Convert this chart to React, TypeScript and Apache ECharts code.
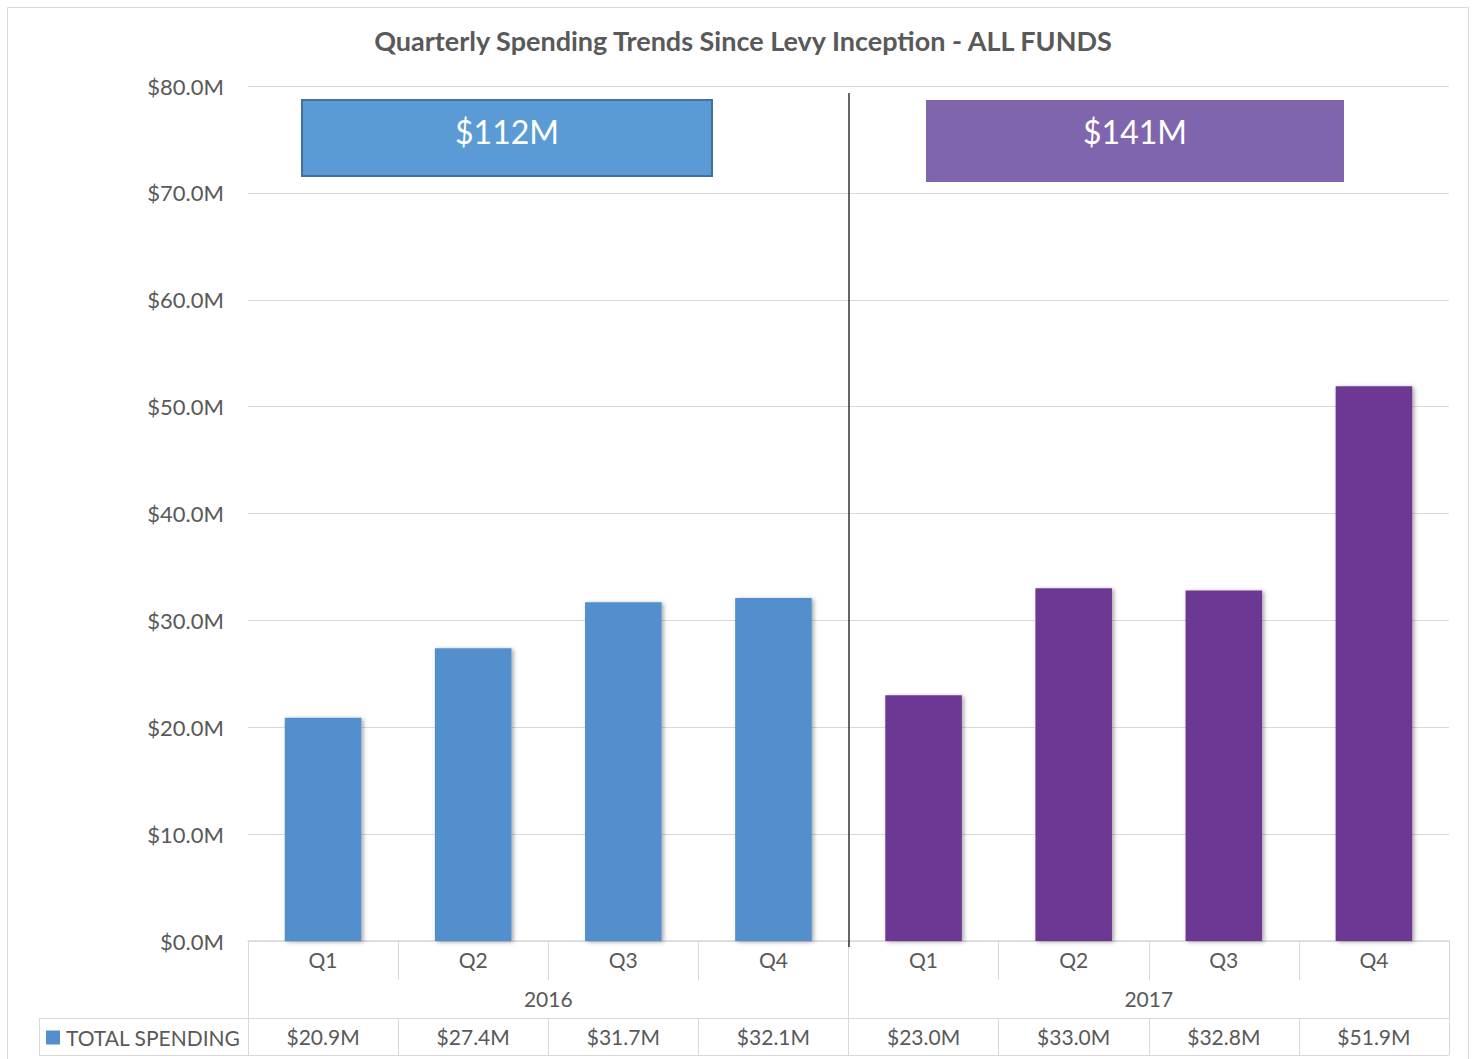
import React, { useEffect, useRef } from "react";
import * as echarts from "echarts";

const quarters = ["Q1", "Q2", "Q3", "Q4", "Q1", "Q2", "Q3", "Q4"];
const years = ["2016", "2017"];
const yearOfBar = ["2016", "2016", "2016", "2016", "2017", "2017", "2017", "2017"];
const spending = [20.9, 27.4, 31.7, 32.1, 23.0, 33.0, 32.8, 51.9];
const yTicks = { min: 0, max: 80, interval: 10 };
const seriesName = "TOTAL SPENDING";
const titleText = "Quarterly Spending Trends Since Levy Inception - ALL FUNDS";

const BLUE = "#538FCC";
const PURPLE = "#6D3894";
const TEXT = "#595959";
const GRID = "#D9D9D9";
const FONT = "Lato, 'Open Sans', sans-serif";

const fmtM = (v: number) => `$${v.toFixed(1)}M`;
const sumYear = (y: string) =>
  spending.reduce((s, v, i) => (yearOfBar[i] === y ? s + v : s), 0);

export default function App() {
  const ref = useRef<HTMLDivElement>(null);
  useEffect(() => {
    if (!ref.current) return;
    const chart = echarts.init(ref.current, undefined, { renderer: "svg" });
    const total2016 = Math.round(sumYear("2016"));
    const total2017 = Math.round(sumYear("2017"));
    chart.setOption({
      animation: false,
      backgroundColor: "#fff",
      textStyle: { fontFamily: FONT },
      title: {
        text: titleText,
        left: 738,
        textAlign: "center",
        top: 22,
        textStyle: { fontFamily: FONT, fontSize: 27, fontWeight: "bold", color: TEXT },
      },
      legend: {
        left: 41,
        top: 1022,
        itemWidth: 14,
        itemHeight: 14,
        itemGap: 6,
        icon: "rect",
        data: [seriesName],
        textStyle: { fontFamily: FONT, fontSize: 21, color: TEXT, padding: [0, 0, 0, 1] },
      },
      grid: { left: 248, right: 26, top: 86, bottom: 118, containLabel: false },
      xAxis: [
        {
          type: "category",
          data: quarters,
          position: "bottom",
          axisLine: { show: true, lineStyle: { color: GRID, width: 1.5 } },
          axisTick: { show: true, length: 39, lineStyle: { color: GRID } },
          axisLabel: { fontFamily: FONT, fontSize: 21, color: TEXT, margin: 8 },
        },
        {
          type: "category",
          data: years,
          position: "bottom",
          offset: 39,
          axisLine: { show: false },
          axisTick: { show: true, length: 38, lineStyle: { color: GRID } },
          axisLabel: { fontFamily: FONT, fontSize: 21, color: TEXT, margin: 8 },
        },
        {
          type: "category",
          data: spending.map(fmtM),
          position: "bottom",
          offset: 77,
          axisLine: { show: true, lineStyle: { color: GRID } },
          axisTick: { show: true, length: 37, lineStyle: { color: GRID } },
          axisLabel: { fontFamily: FONT, fontSize: 21, color: TEXT, margin: 8 },
        },
      ],
      yAxis: {
        type: "value",
        min: yTicks.min,
        max: yTicks.max,
        interval: yTicks.interval,
        axisLine: { show: false },
        axisTick: { show: false },
        splitLine: { lineStyle: { color: GRID } },
        axisLabel: { formatter: (v: number) => fmtM(v), fontFamily: FONT, fontSize: 22, color: TEXT, margin: 24 },
      },
      series: [
        {
          name: seriesName,
          type: "bar",
          xAxisIndex: 0,
          barWidth: "51%",
          itemStyle: {
            color: BLUE,
            shadowBlur: 4,
            shadowColor: "rgba(0,0,0,0.35)",
            shadowOffsetX: 2,
            shadowOffsetY: 1,
          },
          data: spending.map((v, i) => ({
            value: v,
            itemStyle: { color: yearOfBar[i] === "2016" ? BLUE : PURPLE },
          })),
        },
      ],
      graphic: [
        { type: "rect", shape: { x: 7.5, y: 7.5, width: 1461, height: 1070 }, style: { fill: "none", stroke: GRID, lineWidth: 1 }, silent: true, z: -10 },
        { type: "line", shape: { x1: 849, y1: 93, x2: 849, y2: 947 }, style: { stroke: "#000", lineWidth: 1.2 }, z: 100 },
        { type: "line", shape: { x1: 39, y1: 1018.5, x2: 248, y2: 1018.5 }, style: { stroke: GRID, lineWidth: 1 } },
        { type: "line", shape: { x1: 39, y1: 1055.5, x2: 1449, y2: 1055.5 }, style: { stroke: GRID, lineWidth: 1 } },
        { type: "line", shape: { x1: 39.5, y1: 1018, x2: 39.5, y2: 1056 }, style: { stroke: GRID, lineWidth: 1 } },
        {
          type: "rect",
          shape: { x: 302, y: 100, width: 410, height: 76 },
          style: { fill: "#5B9BD5", stroke: "#41719C", lineWidth: 2 },
          z: 50,
        },
        {
          type: "text",
          x: 507,
          y: 131,
          style: { text: `$${total2016}M`, fill: "#fff", fontFamily: FONT, fontSize: 32, align: "center", verticalAlign: "middle" },
          z: 51,
        },
        {
          type: "rect",
          shape: { x: 926, y: 100, width: 418, height: 82 },
          style: { fill: "#7F65AE" },
          z: 50,
        },
        {
          type: "text",
          x: 1135,
          y: 131,
          style: { text: `$${total2017}M`, fill: "#fff", fontFamily: FONT, fontSize: 32, align: "center", verticalAlign: "middle" },
          z: 51,
        },
      ],
    });
    return () => chart.dispose();
  }, []);
  return <div ref={ref} style={{ position: "fixed", left: 0, top: 0, width: 1475, height: 1059 }} />;
}
